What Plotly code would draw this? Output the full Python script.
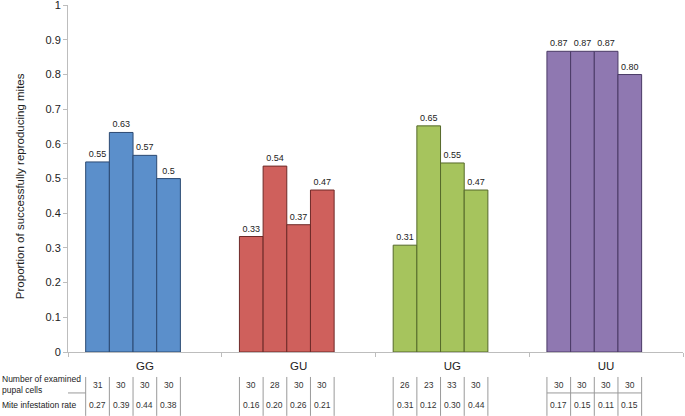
import plotly.graph_objects as go

groups = ["GG", "GU", "UG", "UU"]
# proportion of successfully reproducing mites, bar i of each group
bar1 = [0.548, 0.333, 0.308, 0.867]
bar2 = [0.633, 0.536, 0.652, 0.867]
bar3 = [0.567, 0.367, 0.545, 0.867]
bar4 = [0.500, 0.467, 0.467, 0.800]
labels1 = ["0.55", "0.33", "0.31", "0.87"]
labels2 = ["0.63", "0.54", "0.65", "0.87"]
labels3 = ["0.57", "0.37", "0.55", "0.87"]
labels4 = ["0.5", "0.47", "0.47", "0.80"]

y_ticks = [0, 0.1, 0.2, 0.3, 0.4, 0.5, 0.6, 0.7, 0.8, 0.9, 1]
y_tick_text = ["0", "0.1", "0.2", "0.3", "0.4", "0.5", "0.6", "0.7", "0.8", "0.9", "1"]

# table under the chart
n_cells = {
    "GG": ["31", "30", "30", "30"],
    "GU": ["30", "28", "30", "30"],
    "UG": ["26", "23", "33", "30"],
    "UU": ["30", "30", "30", "30"],
}
infest_rate = {
    "GG": ["0.27", "0.39", "0.44", "0.38"],
    "GU": ["0.16", "0.20", "0.26", "0.21"],
    "UG": ["0.31", "0.12", "0.30", "0.44"],
    "UU": ["0.17", "0.15", "0.11", "0.15"],
}

fills = ["#5b8fcb", "#cf605c", "#a6c45d", "#8f78b1"]
edges = ["#2c4a72", "#6e2a28", "#55692a", "#4a3a66"]

BARGAP = 0.23
NSLOT = 5
slot = (1 - BARGAP) / NSLOT

fig = go.Figure()
series = [(bar1, labels1), (bar2, labels2), (bar3, labels3), (bar4, labels4),
          ([None] * 4, [""] * 4)]
for vals, labs in series:
    fig.add_trace(go.Bar(
        x=groups, y=vals, text=labs, textposition="outside",
        textfont=dict(size=9, color="#222"),
        marker=dict(color=fills, line=dict(color=edges, width=1)),
        cliponaxis=False, showlegend=False,
    ))

# table: row texts and column separators (paper y: 0 = axis line at 352px, 347px per unit)
row1_y = -0.095
row2_y = -0.153
for ci, g in enumerate(groups):
    left = ci - 0.5 + BARGAP / 2
    for j in range(4):
        xc = left + slot * (j + 0.5)
        fig.add_annotation(x=xc, y=row1_y, xref="x", yref="paper", text=n_cells[g][j],
                           showarrow=False, xanchor="center", yanchor="middle",
                           font=dict(size=8.5, color="#333"))
        fig.add_annotation(x=xc, y=row2_y, xref="x", yref="paper", text=infest_rate[g][j],
                           showarrow=False, xanchor="center", yanchor="middle",
                           font=dict(size=8.5, color="#333"))
    for j in range(5):
        xe = left + slot * j
        fig.add_shape(type="line", xref="x", yref="paper", x0=xe, x1=xe,
                      y0=-0.072, y1=-0.184, line=dict(color="#9a9a9a", width=1))

hy = -0.118
for x0, x1 in [(-0.61, -0.5 + BARGAP / 2), (3 - 0.5 + BARGAP / 2, 3 - 0.5 + BARGAP / 2 + 4 * slot)]:
    fig.add_shape(type="line", xref="x", yref="paper", x0=x0, x1=x1, y0=hy, y1=hy,
                  line=dict(color="#9a9a9a", width=1))

fig.add_annotation(x=-0.1106, y=row1_y, xref="paper", yref="paper",
                   text="Number of examined<br>pupal cells", showarrow=False,
                   xanchor="left", yanchor="middle", align="left",
                   font=dict(size=8.5, color="#222"))
fig.add_annotation(x=-0.1106, y=row2_y, xref="paper", yref="paper",
                   text="Mite infestation rate", showarrow=False,
                   xanchor="left", yanchor="middle", align="left",
                   font=dict(size=8.5, color="#222"))
fig.add_annotation(x=-0.078, y=0.478, xref="paper", yref="paper",
                   text="Proportion of successfully reproducing mites", showarrow=False,
                   xanchor="center", yanchor="middle",
                   textangle=-90, font=dict(size=11.5, color="#222"))

fig.update_layout(
    width=685, height=416,
    margin=dict(l=68, r=2, t=5, b=64, autoexpand=False),
    barmode="group", bargap=BARGAP, bargroupgap=0,
    plot_bgcolor="white", paper_bgcolor="white",
    font=dict(family="Liberation Sans, Arial, sans-serif", color="#222"),
    xaxis=dict(
        range=[-0.5, 3.5], showline=True, linecolor="#bdbdbd", linewidth=1,
        ticks="outside", tickson="boundaries", ticklen=4, tickcolor="#bdbdbd",
        tickfont=dict(size=11.5, color="#222"), showgrid=False, ticklabelstandoff=3,
    ),
    yaxis=dict(
        range=[0, 1.0005], tickvals=y_ticks, ticktext=y_tick_text,
        showline=True, linecolor="#bdbdbd", linewidth=1,
        ticks="outside", ticklen=4, tickcolor="#bdbdbd", showgrid=False,
        zeroline=False, tickfont=dict(size=11, color="#222"),
        ticklabeloverflow="allow",
    ),
)

fig.write_html("out.html", config={"displayModeBar": False},
               post_script="document.body.style.margin='0';")
